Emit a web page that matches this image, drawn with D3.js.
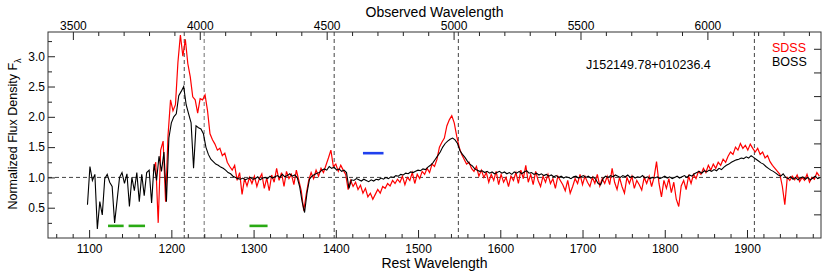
<!DOCTYPE html>
<html><head><meta charset="utf-8">
<script src="https://cdn.jsdelivr.net/npm/d3@7"></script>
<style>body{margin:0;background:#fff} text{font-family:"Liberation Sans",Arial,sans-serif;fill:#000}</style>
</head><body><svg id="c" width="830" height="278"></svg>
<script>
// ---- data ----
const redshiftFactor = 3.24; // observed = rest * (1+z)
const bossStart = 1098, bossStep = 3;
const bossFlux = [
0.55,1.18,0.95,1.05,0.15,0.6,0.38,0.98,1.05,0.92,
0.85,0.25,0.62,1.0,1.08,0.9,1.06,0.52,1.0,0.78,
1.08,0.6,1.05,0.7,1.08,1.12,0.58,1.22,0.95,1.35,
1.1,1.42,0.6,1.65,1.9,2.0,2.05,2.35,2.42,2.5,
2.2,2.05,1.9,1.15,1.85,1.82,1.8,1.72,1.5,1.38,
1.3,1.26,1.22,1.2,1.17,1.15,1.12,1.08,1.06,1.02,
1.0,0.98,0.97,0.99,0.96,0.98,1.0,0.97,0.98,1.01,
0.96,0.99,1.0,0.98,1.02,0.99,1.01,1.03,1.0,1.05,
1.01,1.03,1.06,1.02,1.04,1.0,0.85,0.6,0.42,0.75,
0.97,1.02,1.05,1.07,1.08,1.12,1.14,1.12,1.18,1.15,
1.17,1.12,1.14,1.1,1.12,1.08,0.82,0.96,0.95,0.98,
0.96,0.94,0.97,0.95,0.93,0.96,0.94,0.97,0.96,0.99,
0.97,1.0,0.98,1.01,1.0,1.03,1.02,1.05,1.04,1.07,
1.06,1.09,1.08,1.1,1.12,1.11,1.14,1.13,1.17,1.2,
1.24,1.3,1.36,1.42,1.5,1.56,1.6,1.63,1.65,1.62,
1.56,1.44,1.38,1.33,1.27,1.22,1.19,1.14,1.12,1.1,
1.11,1.08,1.1,1.07,1.09,1.06,1.08,1.1,1.07,1.09,
1.06,1.08,1.05,1.09,1.07,1.1,1.06,1.09,1.11,1.07,
1.08,1.05,1.07,1.04,1.06,1.03,1.05,1.02,1.04,1.01,
1.03,1.0,1.02,0.99,1.01,1.0,0.98,1.01,1.02,0.99,
1.01,1.03,1.0,1.02,0.99,1.01,0.97,0.9,0.88,0.98,
1.02,1.0,1.03,1.01,1.04,1.02,1.0,1.03,1.01,1.04,
1.0,1.02,0.99,1.01,1.0,1.03,0.99,1.01,0.98,1.0,
0.99,1.01,0.98,1.0,1.02,0.99,1.01,0.98,1.0,1.02,
0.99,1.01,1.03,1.0,1.04,1.02,1.06,1.08,1.1,1.07,
1.11,1.09,1.12,1.1,1.13,1.11,1.15,1.13,1.17,1.2,
1.22,1.25,1.27,1.29,1.3,1.32,1.31,1.34,1.32,1.36,
1.33,1.3,1.27,1.24,1.22,1.18,1.15,1.12,1.1,1.07,
1.04,1.02,1.06,1.0,0.98,1.01,0.97,1.0,0.96,0.99,
1.01,0.97,1.0,0.96,0.99,1.02,0.98,1.0
];
const sdssStart = 1178, sdssStep = 3;
const sdssFlux = [
1.1,1.25,0.25,1.45,1.6,0.6,1.7,2.28,2.1,2.2,
2.9,3.35,3.0,3.28,2.88,2.66,2.33,2.28,2.06,2.3,
2.28,2.36,2.1,1.72,1.62,1.55,1.45,1.48,1.36,1.4,
1.25,1.18,1.12,1.2,0.95,1.08,0.72,0.98,0.86,1.0,
0.9,1.02,0.85,0.98,1.06,0.82,0.99,0.78,1.04,0.92,
1.15,0.95,1.08,0.85,1.1,0.98,1.05,0.88,1.12,0.95,
0.78,0.45,0.72,0.95,1.08,0.98,1.12,1.02,1.15,1.08,
1.2,1.32,1.45,1.18,1.22,1.1,1.2,1.12,1.05,0.8,
0.95,0.85,0.92,0.8,0.87,0.74,0.82,0.68,0.74,0.64,
0.72,0.8,0.74,0.85,0.82,0.9,0.86,0.95,0.9,0.97,
0.92,1.02,0.88,1.0,0.95,1.08,0.9,1.05,0.98,1.1,
1.05,1.15,1.08,1.22,1.18,1.3,1.5,1.58,1.65,1.85,
1.95,2.02,1.9,1.68,1.5,1.38,1.3,1.22,1.25,1.15,
1.1,1.18,1.02,1.12,1.0,1.08,0.92,1.05,0.95,1.1,
0.88,1.05,0.92,1.0,0.85,1.02,0.95,1.08,0.9,1.12,
0.98,1.2,0.92,1.05,0.88,1.1,0.95,0.85,1.02,0.92,
1.05,0.9,0.98,0.82,1.02,0.95,0.88,0.78,0.95,0.74,
0.85,0.98,0.9,1.05,0.88,1.02,0.92,0.85,1.0,0.9,
1.05,0.86,0.98,0.9,1.02,0.88,1.15,0.92,0.8,1.0,
0.85,0.74,1.0,0.9,1.02,0.82,0.95,0.88,0.79,1.0,
0.9,1.02,0.85,1.0,1.26,0.9,0.68,0.95,0.82,0.98,
0.75,0.92,0.64,0.52,0.86,0.95,0.8,1.02,0.9,1.05,
0.98,1.1,1.05,1.15,1.08,1.2,1.12,1.22,1.15,1.25,
1.2,1.3,1.25,1.35,1.42,1.38,1.5,1.45,1.56,1.48,
1.53,1.45,1.55,1.48,1.42,1.48,1.38,1.42,1.32,1.36,
1.26,1.2,1.15,1.1,1.05,0.85,0.55,1.0,0.95,1.02,
0.96,1.04,0.93,1.0,0.95,1.05,0.92,1.0,0.97,1.08,
1.02
];
const emissionLines = [1215.67, 1240, 1398, 1549, 1909];
const greenRanges = [[1123,1142],[1148,1168],[1295,1317]];
const greenLevel = 0.2;
const blueRanges = [[1433,1458]];
const blueLevel = 1.4;
const restTicks = [1100,1200,1300,1400,1500,1600,1700,1800,1900];
const restMinor = d3.range(1060, 1990, 20);
const obsTicks = [3500,4000,4500,5000,5500,6000];
const obsMinor = d3.range(3500, 6500, 100);
const yTicks = [0.5,1.0,1.5,2.0,2.5,3.0];
const yMinor = [0.25,0.75,1.25,1.75,2.25,2.75,3.25];
const rightTicks = [1,2,3,4,5,6,7,8];
const objectName = "J152149.78+010236.4";
const legendNames = ["SDSS","BOSS"];
const legendColors = ["#ff0000","#000000"];

// ---- layout ----
const L = 48, R = 821, T = 32, B = 238;
const svg = d3.select("#c");
const x = d3.scaleLinear().domain([1050, 1990]).range([L, R]);
const xo = d3.scaleLinear().domain([1050*redshiftFactor, 1990*redshiftFactor]).range([L, R]);
const y = d3.scaleLinear().domain([0, 3.4]).range([B, T]);
const yr = d3.scaleLinear().domain([0, 8.71]).range([B, T]);

svg.append("defs").append("clipPath").attr("id","clip")
  .append("rect").attr("x",L).attr("y",T).attr("width",R-L).attr("height",B-T);
const plot = svg.append("g").attr("clip-path","url(#clip)");

// dashed reference lines
plot.append("line").attr("x1",L).attr("x2",R).attr("y1",y(1)).attr("y2",y(1))
  .attr("stroke","#444").attr("stroke-dasharray","4,3").attr("stroke-width",1);
emissionLines.forEach((w,i)=>{
  plot.append("line").attr("x1",x(w)).attr("x2",x(w)).attr("y1",T).attr("y2",B)
    .attr("stroke", i===1 ? "#9a9a9a" : "#444")
    .attr("stroke-width", i===1 ? 1.4 : 1)
    .attr("stroke-dasharray","4,3");
});

const sdss = sdssFlux.map((v,i)=>[sdssStart + i*sdssStep, v]);
const boss = bossFlux.map((v,i)=>[bossStart + i*bossStep, v]);
const line = d3.line().x(d=>x(d[0])).y(d=>y(d[1]));
plot.append("path").attr("d", line(sdss)).attr("fill","none").attr("stroke","#ff0000").attr("stroke-width",1.2);
plot.append("path").attr("d", line(boss)).attr("fill","none").attr("stroke","#000").attr("stroke-width",1.1);

greenRanges.forEach(r=>{
  plot.append("line").attr("x1",x(r[0])).attr("x2",x(r[1])).attr("y1",y(greenLevel)).attr("y2",y(greenLevel))
    .attr("stroke","#2aaa14").attr("stroke-width",2.6);
});
blueRanges.forEach(r=>{
  plot.append("line").attr("x1",x(r[0])).attr("x2",x(r[1])).attr("y1",y(blueLevel)).attr("y2",y(blueLevel))
    .attr("stroke","#2040ee").attr("stroke-width",2.6);
});

// axes
function style(g){
  g.select(".domain").remove();
  g.selectAll(".tick line").attr("stroke","#222");
  g.selectAll("text").style("font-family",'"Liberation Sans",Arial,sans-serif').style("font-size","12px").attr("fill","#000");
}
svg.append("g").attr("transform",`translate(0,${B})`)
  .call(d3.axisBottom(x).tickValues(restTicks).tickSize(-8).tickPadding(6).tickFormat(d3.format("d"))).call(style);
svg.append("g").attr("transform",`translate(0,${B})`)
  .call(d3.axisBottom(x).tickValues(restMinor.filter(v=>!restTicks.includes(v))).tickSize(-4).tickFormat("")).call(style);
svg.append("g").attr("transform",`translate(0,${T})`)
  .call(d3.axisTop(xo).tickValues(obsTicks).tickSize(-8).tickPadding(2).tickFormat(d3.format("d"))).call(style);
svg.append("g").attr("transform",`translate(0,${T})`)
  .call(d3.axisTop(xo).tickValues(obsMinor.filter(v=>!obsTicks.includes(v))).tickSize(-4).tickFormat("")).call(style);
svg.append("g").attr("transform",`translate(${L},0)`)
  .call(d3.axisLeft(y).tickValues(yTicks).tickSize(-7).tickPadding(3).tickFormat(d3.format(".1f"))).call(style);
svg.append("g").attr("transform",`translate(${L},0)`)
  .call(d3.axisLeft(y).tickValues(yMinor).tickSize(-4).tickFormat("")).call(style);
svg.append("g").attr("transform",`translate(${R},0)`)
  .call(d3.axisRight(yr).tickValues(rightTicks).tickSize(-7).tickFormat("")).call(style);

svg.append("rect").attr("x",L).attr("y",T).attr("width",R-L).attr("height",B-T)
  .attr("fill","none").attr("stroke","#333").attr("stroke-width",1);

// labels
svg.append("text").attr("x",(L+R)/2).attr("y",16.5).attr("text-anchor","middle")
  .style("font-size","14px").text("Observed Wavelength");
svg.append("text").attr("x",(L+R)/2).attr("y",267.5).attr("text-anchor","middle")
  .style("font-size","14px").text("Rest Wavelength");
const yl = svg.append("text").attr("transform","translate(17,134) rotate(-90)")
  .attr("text-anchor","middle").style("font-size","12.5px");
yl.append("tspan").text("Normalized Flux Density F");
yl.append("tspan").attr("dy",4).style("font-size","9px").text("λ");
svg.append("text").attr("x",586).attr("y",69).style("font-size","12.5px").text(objectName);
legendNames.forEach((n,i)=>{
  svg.append("text").attr("x",772).attr("y",51.5+i*14).style("font-size","12.5px")
    .style("fill",legendColors[i]).text(n);
});
</script></body></html>
